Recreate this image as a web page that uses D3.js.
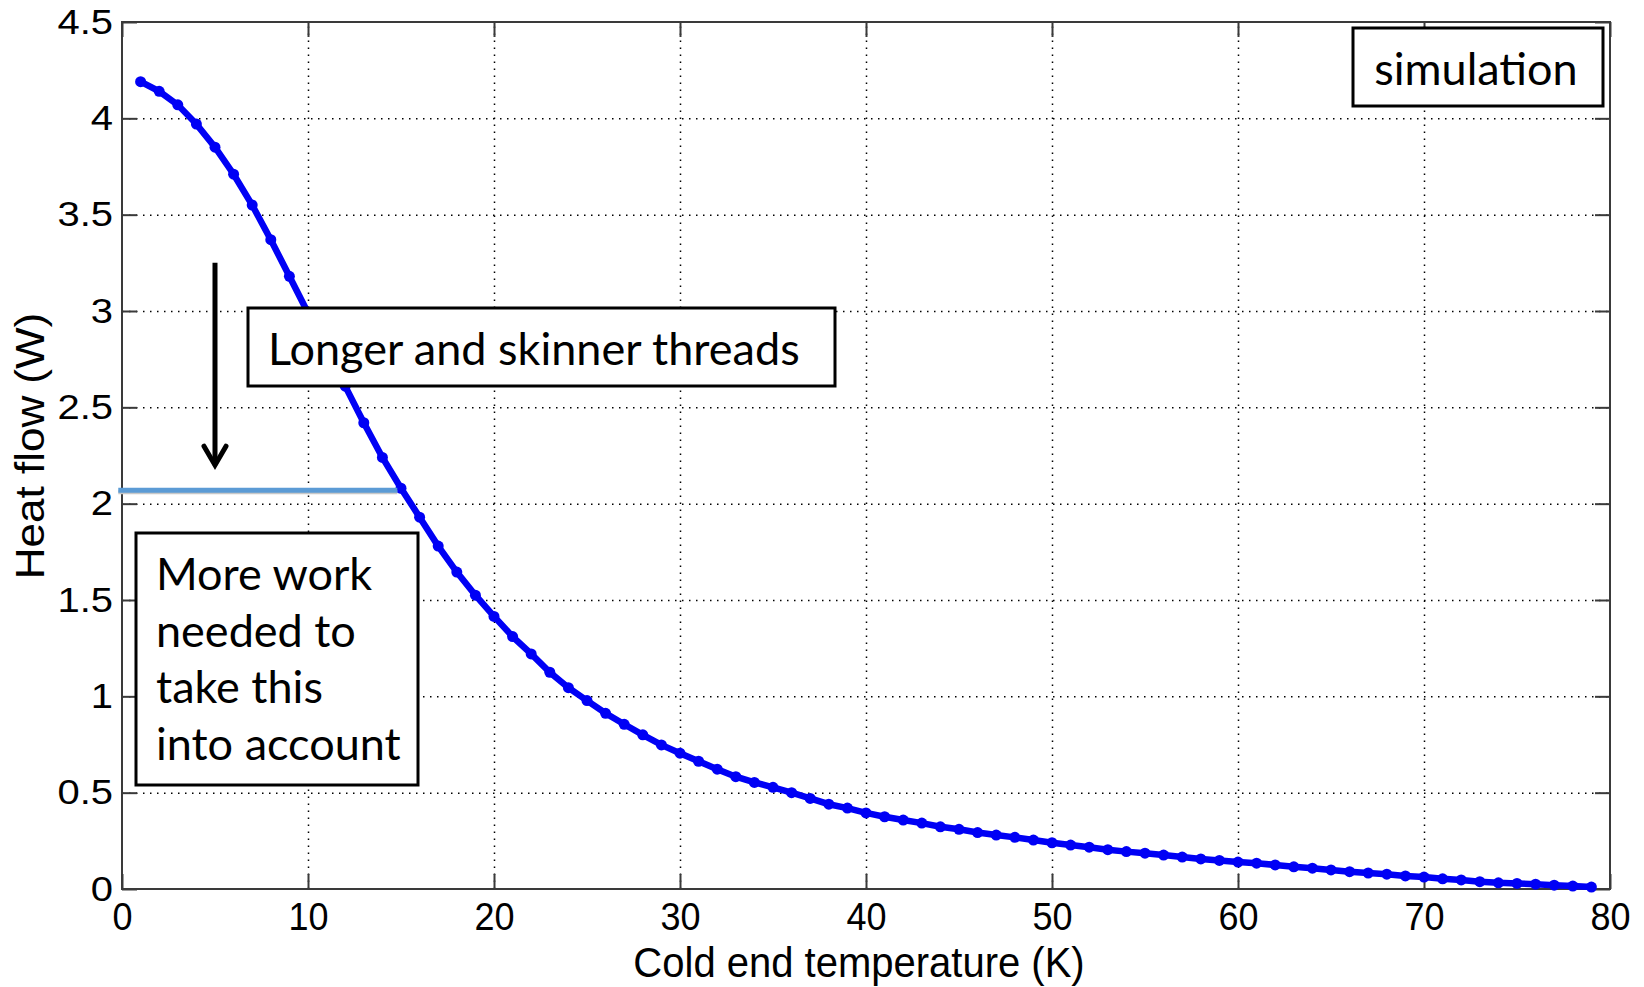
<!DOCTYPE html>
<head>
    <meta charset="utf-8">
    <style>
        body{
            margin: 0;
            background: #fff;
        }

        .axis text{
            font-family: 'Liberation Sans', Arial, sans-serif;
            fill: #000;
        }

        .axis .domain{
            display: none;
        }

        .axis line{
            stroke: #3a3a3a;
            stroke-width: 2px;
        }

        .grid line{
            stroke: #000;
            stroke-width: 1.5px;
            stroke-dasharray: 1.5,5.5;
        }

        .grid .domain{
            display: none;
        }

        .title{
            font-family: 'Liberation Sans', Arial, sans-serif;
            font-size: 40px;
        }

        .note{
            font-family: Lato, 'Open Sans', sans-serif;
            font-size: 45px;
        }

        .box{
            fill: #fff;
            stroke: #000;
            stroke-width: 3px;
        }
    </style>
</head>
<body>
    <div id="chart"></div>
    <script src="https://d3js.org/d3.v7.min.js"></script>
    <script>
        // Cold end temperature (K), one simulated point per kelvin
        var temps = d3.range(1, 80);

        // Heat flow (W)
        var heatFlow = [
            4.19, 4.14, 4.07, 3.97, 3.85, 3.71, 3.55, 3.37, 3.18, 2.99,
            2.80, 2.61, 2.42, 2.24, 2.08, 1.93, 1.78, 1.645, 1.525, 1.415,
            1.31, 1.22, 1.125, 1.045, 0.978, 0.912, 0.855, 0.80, 0.748, 0.705,
            0.663, 0.622, 0.583, 0.553, 0.528, 0.50, 0.47, 0.44, 0.42, 0.395,
            0.375, 0.358, 0.342, 0.323, 0.31, 0.293, 0.28, 0.268, 0.254, 0.24,
            0.228, 0.217, 0.204, 0.194, 0.186, 0.176, 0.166, 0.156, 0.148, 0.14,
            0.134, 0.125, 0.115, 0.108, 0.099, 0.09, 0.083, 0.077, 0.068, 0.062,
            0.053, 0.047, 0.038, 0.032, 0.029, 0.025, 0.02, 0.015, 0.01
        ];

        var xTicks = [0, 10, 20, 30, 40, 50, 60, 70, 80];
        var yTicks = [0, 0.5, 1, 1.5, 2, 2.5, 3, 3.5, 4, 4.5];
        var yTickLabels = ["0", "0.5", "1", "1.5", "2", "2.5", "3", "3.5", "4", "4.5"];

        // annotation: threshold line and the arrow pushing it down
        var thresholdFlow = 2.07;
        var thresholdTemps = [-0.2, 14.8];
        var arrowTemp = 5;
        var arrowFlows = [3.25, 2.2];

        var margin = {top: 22, right: 34, bottom: 98, left: 122},
            width = 1644 - margin.left - margin.right,
            height = 987 - margin.top - margin.bottom;

        var svg = d3.select("#chart").append("svg")
                .attr("width", 1644)
                .attr("height", 987);

        var g = svg.append("g")
                .attr("transform", "translate(" + margin.left + "," + margin.top + ")");

        var x = d3.scaleLinear().domain([0, 80]).range([0, width]);
        var y = d3.scaleLinear().domain([0, 4.5]).range([height, 0]);

        var data = temps.map(function(t, i) { return {t: t, q: heatFlow[i]}; });

        // dotted grid
        g.append("g")
            .attr("class", "grid")
            .attr("transform", "translate(0," + height + ")")
            .call(d3.axisBottom(x).tickValues(xTicks.slice(1, -1)).tickSize(-height).tickFormat(""));

        g.append("g")
            .attr("class", "grid")
            .call(d3.axisLeft(y).tickValues(yTicks.slice(1, -1)).tickSize(-width).tickFormat(""));

        // box with inward ticks on all four sides
        g.append("g")
            .attr("class", "axis")
            .attr("transform", "translate(0," + height + ")")
            .call(d3.axisBottom(x).tickValues(xTicks).tickSize(-15).tickPadding(13))
            .selectAll("text")
                .style("font-size", "36px")
                .attr("transform", "scale(1,1.06)");

        g.append("g")
            .attr("class", "axis")
            .call(d3.axisTop(x).tickValues(xTicks).tickSize(-15).tickFormat(""));

        g.append("g")
            .attr("class", "axis")
            .call(d3.axisLeft(y).tickValues(yTicks).tickSize(-15).tickPadding(9)
                .tickFormat(function(d, i) { return yTickLabels[i]; }))
            .selectAll("text")
                .style("font-size", "40px")
                .attr("transform", "scale(1,0.88)");

        g.append("g")
            .attr("class", "axis")
            .attr("transform", "translate(" + width + ",0)")
            .call(d3.axisRight(y).tickValues(yTicks).tickSize(-15).tickFormat(""));

        g.append("rect")
            .attr("width", width)
            .attr("height", height)
            .attr("fill", "none")
            .attr("stroke", "#3a3a3a")
            .attr("stroke-width", 2);

        // curve
        var line = d3.line()
            .x(function(d) { return x(d.t); })
            .y(function(d) { return y(d.q); });

        g.append("path")
            .datum(data)
            .attr("d", line)
            .attr("fill", "none")
            .attr("stroke", "#0000f5")
            .attr("stroke-width", 6.5);

        g.selectAll(".pt")
            .data(data)
            .enter().append("circle")
            .attr("class", "pt")
            .attr("cx", function(d) { return x(d.t); })
            .attr("cy", function(d) { return y(d.q); })
            .attr("r", 5.5)
            .attr("fill", "#0000f5");

        // axis titles
        svg.append("text")
            .attr("class", "title")
            .attr("transform", "translate(859,977) scale(1,1.08)")
            .attr("text-anchor", "middle")
            .text("Cold end temperature (K)");

        svg.append("text")
            .attr("class", "title")
            .attr("transform", "translate(44,446) rotate(-90) scale(1.1,1)")
            .attr("text-anchor", "middle")
            .text("Heat flow (W)");

        // threshold line
        g.append("line")
            .attr("x1", x(thresholdTemps[0]))
            .attr("x2", x(thresholdTemps[1]))
            .attr("y1", y(thresholdFlow) + 2)
            .attr("y2", y(thresholdFlow) + 2)
            .attr("stroke", "#c8c8c8")
            .attr("stroke-width", 4);

        g.append("line")
            .attr("x1", x(thresholdTemps[0]))
            .attr("x2", x(thresholdTemps[1]))
            .attr("y1", y(thresholdFlow))
            .attr("y2", y(thresholdFlow))
            .attr("stroke", "#5b9bd5")
            .attr("stroke-width", 5);

        // arrow
        var ax = x(arrowTemp), ay0 = y(arrowFlows[0]), ay1 = y(arrowFlows[1]);
        g.append("line")
            .attr("x1", ax).attr("x2", ax)
            .attr("y1", ay0).attr("y2", ay1)
            .attr("stroke", "#000")
            .attr("stroke-width", 5);

        g.append("path")
            .attr("d", "M" + (ax - 11) + "," + (ay1 - 19) + "L" + ax + "," + ay1 + "L" + (ax + 11) + "," + (ay1 - 19))
            .attr("fill", "none")
            .attr("stroke", "#000")
            .attr("stroke-width", 5)
            .attr("stroke-linecap", "round");

        // text boxes
        function textBox(x0, y0, w, h) {
            svg.append("rect")
                .attr("class", "box")
                .attr("x", x0).attr("y", y0)
                .attr("width", w).attr("height", h);
        }

        textBox(1353, 28, 250, 78);
        svg.append("text")
            .attr("class", "note")
            .attr("x", 1476).attr("y", 85)
            .attr("text-anchor", "middle")
            .text("simulation");

        textBox(248, 308, 587, 78);
        svg.append("text")
            .attr("class", "note")
            .attr("x", 268).attr("y", 365)
            .text("Longer and skinner threads");

        textBox(136, 533, 282, 252);
        var noteLines = ["More work", "needed to", "take this", "into account"];
        svg.append("text")
            .attr("class", "note")
            .selectAll("tspan")
            .data(noteLines)
            .enter().append("tspan")
            .attr("x", 156)
            .attr("y", function(d, i) { return 590 + i * 56.7; })
            .text(function(d) { return d; });
    </script>
</body>
